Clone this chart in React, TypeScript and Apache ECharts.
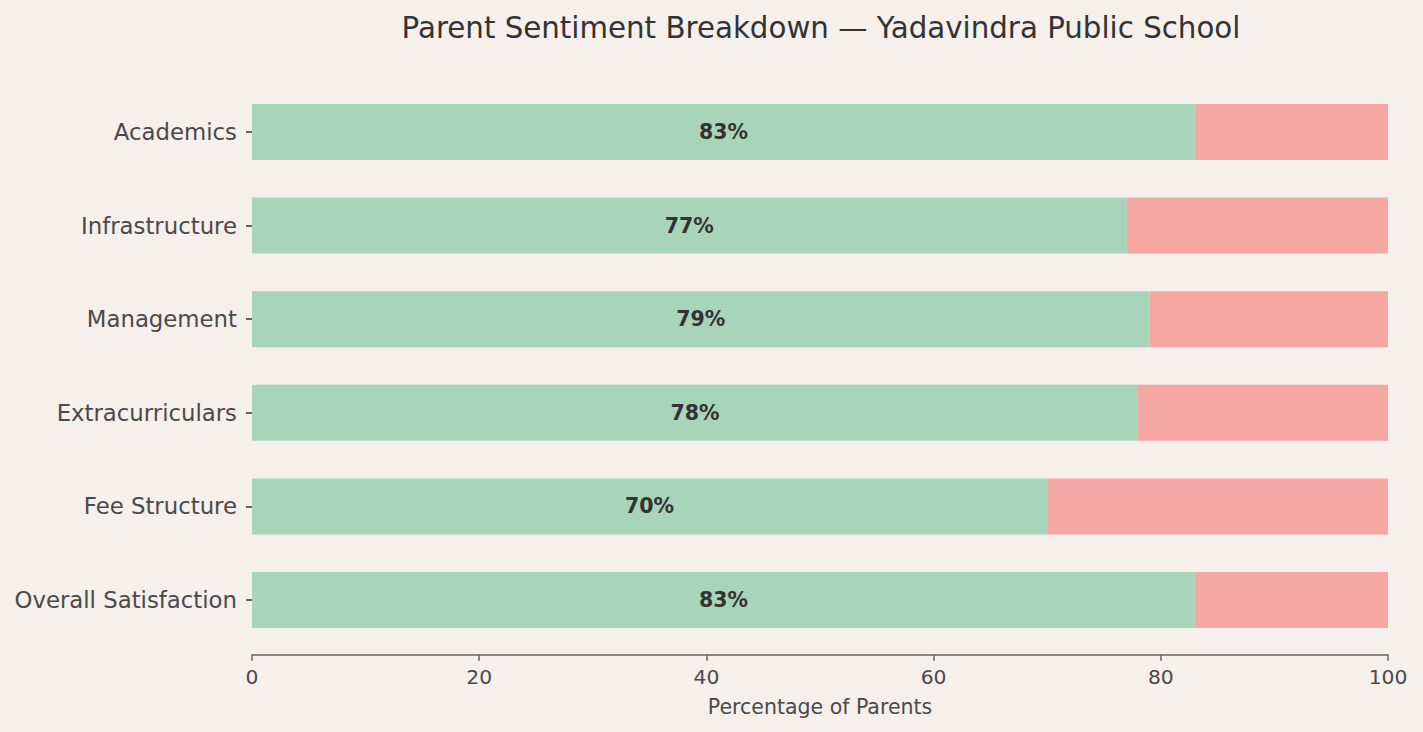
import React, { useEffect, useRef } from "react";
import * as echarts from "echarts";

const categories = [
  "Academics",
  "Infrastructure",
  "Management",
  "Extracurriculars",
  "Fee Structure",
  "Overall Satisfaction",
];
const positive = [83, 77, 79, 78, 70, 83];
const negative = [17, 23, 21, 22, 30, 17];
const xTicks = [0, 20, 40, 60, 80, 100];

const FONT = "DejaVu Sans";

export default function App() {
  const ref = useRef<HTMLDivElement>(null);
  useEffect(() => {
    document.body.style.margin = "0";
    const chart = echarts.init(ref.current!, null, { renderer: "svg" });
    chart.setOption({
      animation: false,
      backgroundColor: "#f5f0eb",
      textStyle: { fontFamily: FONT },
      title: {
        text: "Parent Sentiment Breakdown — Yadavindra Public School",
        left: 816,
        textAlign: "center",
        top: 8,
        textStyle: {
          fontFamily: FONT,
          fontSize: 29.3,
          fontWeight: "normal",
          color: "#333333",
        },
      },
      grid: { left: 252, right: 35, top: 85.2, bottom: 85.2, containLabel: false },
      xAxis: {
        type: "value",
        min: 0,
        max: 100,
        interval: 20,
        offset: 8,
        axisLine: { show: true, lineStyle: { color: "#666666", width: 1.5 } },
        axisTick: { show: true, length: 6, lineStyle: { color: "#666666", width: 1.5 } },
        splitLine: { show: false },
        axisLabel: {
          fontFamily: FONT,
          fontSize: 20.3,
          color: "#4a4a4a",
          margin: 12,
          formatter: (v: number) => (xTicks.includes(v) ? String(v) : ""),
        },
        name: "Percentage of Parents",
        nameLocation: "middle",
        nameGap: 42,
        nameTextStyle: { fontFamily: FONT, fontSize: 20.5, color: "#4a4a4a" },
      },
      yAxis: {
        type: "category",
        data: categories,
        inverse: true,
        axisLine: { show: false },
        axisTick: {
          show: true,
          alignWithLabel: true,
          length: 6,
          lineStyle: { color: "#333333", width: 1.5 },
        },
        axisLabel: {
          fontFamily: FONT,
          fontSize: 22.8,
          color: "#4a4a4a",
          margin: 15,
        },
      },
      series: [
        {
          type: "bar",
          stack: "s",
          data: positive,
          barWidth: 56,
          itemStyle: { color: "#a8d5ba" },
          label: {
            show: true,
            position: "inside",
            formatter: "{c}%",
            fontFamily: FONT,
            fontSize: 20.5,
            fontWeight: "bold",
            color: "#333333",
          },
        },
        {
          type: "bar",
          stack: "s",
          data: negative,
          barWidth: 56,
          itemStyle: { color: "#f5a8a3" },
        },
      ],
    });
    return () => chart.dispose();
  }, []);
  return <div ref={ref} style={{ width: 1423, height: 732 }} />;
}
